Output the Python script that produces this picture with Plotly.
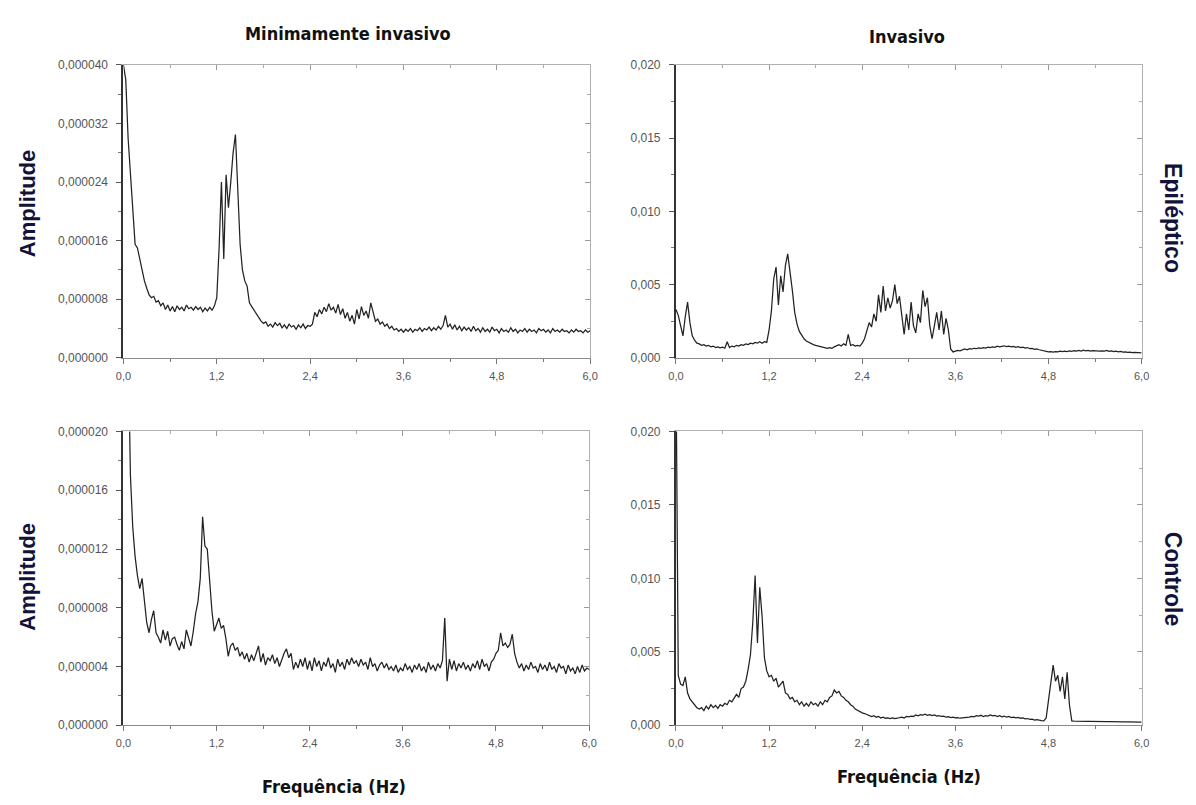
import numpy as np
import plotly.graph_objects as go

# Frequency bins (Hz), 0.03 Hz resolution from 0 to 6 Hz
freq = np.round(np.arange(201) * 0.03, 2)

# Amplitude spectra
# Minimally invasive recordings, in units of 1e-6
mi_epileptico = [
    40, 38, 30, 25, 19, 15.5, 15, 13.5, 12, 10.5,
    9.5, 8.6, 8.2, 8.4, 7.6, 7.8, 7.1, 7.5, 6.6, 7.2,
    6.4, 7.0, 6.3, 7.1, 6.6, 6.9, 6.4, 7.2, 6.7, 6.9,
    6.5, 7.0, 6.6, 6.9, 6.3, 6.8, 6.4, 6.9, 6.5, 7.1,
    8.2, 15, 24, 13.5, 25, 20.5, 24, 28, 30.5, 24,
    15.5, 12, 10.5, 9.8, 7.5, 7.0, 6.5, 6.0, 5.4, 5.0,
    4.7, 4.9, 4.3, 4.6, 4.2, 4.8, 4.4, 4.7, 4.1, 4.5,
    4.0, 4.6, 4.2, 4.4, 3.9, 4.5, 4.1, 4.6, 4.0, 4.4,
    4.3, 4.6, 6.2, 5.6, 6.6, 6.0, 6.9, 6.3, 7.4, 6.5,
    6.9, 6.1, 7.3, 5.9, 6.7, 5.4, 6.2, 5.0, 5.8, 4.6,
    6.6, 5.3, 7.0, 5.8, 6.4, 5.4, 7.5, 6.2, 5.0, 5.3,
    4.6, 4.9, 4.3, 4.6, 4.0, 4.3, 3.8, 4.0, 3.6, 3.9,
    3.5, 3.9, 3.6, 4.0, 3.5, 3.9, 3.7, 4.1, 3.6, 4.0,
    3.8, 4.2, 3.7, 4.1, 3.8, 4.3, 3.9, 4.4, 5.8, 4.2,
    4.6, 3.9, 4.5, 3.8, 4.3, 3.7, 4.2, 3.8, 4.1, 3.6,
    4.3, 3.7, 4.0, 3.5, 4.1, 3.6, 3.9, 3.5, 4.2, 3.7,
    3.9, 3.4, 4.0, 3.6, 3.8, 3.5, 4.1, 3.6, 3.9, 3.4,
    3.8, 3.6, 4.0, 3.5, 3.9, 3.6, 3.8, 3.4, 4.0, 3.7,
    3.9, 3.5, 3.8, 3.4, 4.0, 3.6, 3.8, 3.5, 3.9, 3.6,
    3.7, 3.4, 3.8, 3.5, 3.9, 3.6, 3.7, 3.4, 3.8, 3.5,
    3.7,
]
mi_controle = [
    45, 35, 26, 17, 13.5, 11.5, 10.2, 9.3, 10.0, 8.6,
    7.0, 6.3, 7.2, 7.8, 6.3, 6.0, 5.6, 6.5, 5.8, 6.4,
    5.4, 5.9, 6.0, 5.5, 5.1, 5.7, 5.2, 6.5, 5.9, 5.4,
    6.4, 7.6, 8.4, 10.0, 14.2, 12.2, 12.0, 9.5, 7.8, 6.4,
    6.9, 7.3, 6.6, 6.8, 5.9, 4.7, 5.4, 5.6, 5.1, 5.3,
    4.7, 5.0, 4.5, 4.9, 4.3, 4.8, 4.4, 5.0, 5.4, 4.3,
    4.9, 4.1, 4.6, 4.4, 4.8, 4.2, 4.6, 4.0, 4.5, 4.9,
    5.2, 4.6, 4.9, 3.8, 4.3, 3.9, 4.5, 4.0, 4.6, 3.8,
    4.4, 3.7, 4.6, 4.0, 4.4, 3.7, 4.3, 4.0, 4.6, 3.9,
    4.2, 3.6, 4.5, 4.0, 4.3, 3.8, 4.5, 4.1, 4.6, 4.2,
    4.4, 4.0, 4.5, 4.1, 4.3, 3.8, 4.6, 4.0, 4.2, 3.7,
    4.1, 4.3, 3.9, 4.2, 3.8, 4.0, 3.7, 4.1, 3.6, 3.9,
    3.7, 4.2, 3.8, 4.0, 3.6, 4.1, 3.8, 4.2, 3.7, 4.0,
    3.6, 4.3, 3.8, 4.1, 3.7, 4.2, 3.9, 4.4, 7.3, 3.0,
    4.5, 3.8, 4.4, 3.7, 4.2, 3.9, 4.3, 3.8, 4.1, 3.7,
    4.2, 3.9, 4.4, 3.8, 4.5, 4.0, 4.2, 3.7, 4.3, 4.5,
    4.9, 5.1, 6.3, 5.4, 5.6, 5.3, 5.5, 6.2, 4.9, 4.3,
    3.9, 4.2, 3.7, 4.1, 3.8, 4.3, 3.9, 4.0, 3.6, 4.2,
    3.8, 4.1, 3.7, 4.3, 3.8, 4.0, 3.6, 4.2, 3.9, 4.0,
    3.5, 4.1, 3.7, 3.9, 3.5, 4.0, 3.6, 4.1, 3.7, 3.9,
    3.8,
]

# Invasive recordings, in units of 1e-3
inv_epileptico = [
    3.3, 2.9, 2.2, 1.5, 2.8, 3.8, 2.4, 1.5, 1.2, 1.0,
    0.95, 0.85, 0.9, 0.8, 0.85, 0.75, 0.8, 0.7, 0.75, 0.68,
    0.72, 0.65, 1.1, 0.7, 0.8, 0.75, 0.85, 0.8, 0.9, 0.85,
    0.95, 0.9, 1.0, 0.95, 1.05, 1.0, 1.1, 1.0, 1.1, 1.05,
    1.9, 3.2, 5.4, 6.2, 3.6, 5.6, 4.5, 6.3, 7.1, 5.9,
    4.6, 3.1, 2.3, 1.8, 1.5, 1.3, 1.15, 1.05, 0.95, 0.9,
    0.85, 0.8, 0.75, 0.7, 0.68, 0.65, 0.7, 0.65, 0.75, 0.8,
    0.9, 0.8, 0.95, 0.85, 1.6, 0.85, 0.9, 0.8, 0.85, 0.8,
    1.0, 1.3, 1.8, 2.4, 2.1, 3.0, 2.5, 4.3, 3.1, 4.9,
    3.2, 4.1, 3.4, 3.9, 5.0, 3.7, 4.2, 2.8, 1.6, 3.0,
    1.9, 3.8, 2.2, 1.7, 3.0, 2.4, 4.6, 3.5, 4.1, 2.2,
    1.3, 2.2, 3.1, 1.9, 3.2, 1.6, 2.7, 1.9, 0.6, 0.4,
    0.45, 0.5, 0.48, 0.55, 0.6, 0.55, 0.62, 0.6, 0.65, 0.62,
    0.68, 0.65, 0.7, 0.66, 0.72, 0.7, 0.75, 0.72, 0.8, 0.74,
    0.78, 0.82, 0.76, 0.8, 0.74, 0.78, 0.72, 0.76, 0.7, 0.73,
    0.66, 0.7, 0.62, 0.64, 0.58, 0.6, 0.55, 0.5, 0.45, 0.42,
    0.4, 0.42, 0.38, 0.42, 0.4, 0.45, 0.42, 0.46, 0.43, 0.47,
    0.44, 0.48, 0.45, 0.5, 0.46, 0.52, 0.48, 0.5, 0.46, 0.49,
    0.47, 0.5, 0.45, 0.48, 0.46, 0.5, 0.44, 0.47, 0.42, 0.45,
    0.4, 0.43, 0.39, 0.41, 0.37, 0.39, 0.35, 0.37, 0.34, 0.35,
    0.33,
]
inv_controle = [
    25, 3.4, 2.8, 2.7, 3.3, 2.2, 1.8, 1.6, 1.35, 1.2,
    1.1, 1.2, 1.0, 1.3, 1.1, 1.4, 1.2, 1.35, 1.15, 1.4,
    1.3, 1.5, 1.4, 1.7, 1.6, 1.9, 2.1, 1.9, 2.5, 2.6,
    3.0, 3.8, 4.8, 7.0, 10.2, 5.6, 9.4, 7.4, 4.6, 3.7,
    3.3, 3.4, 3.0, 3.2, 2.6, 2.8, 3.0, 2.2, 2.1, 1.8,
    1.9, 1.6, 1.7, 1.4, 1.6, 1.3, 1.5, 1.3, 1.6, 1.4,
    1.5, 1.3, 1.6, 1.4, 1.7, 1.6, 1.9, 2.0, 2.4, 2.2,
    2.3, 2.0, 1.9, 1.7, 1.6, 1.4, 1.3, 1.1, 1.0, 0.9,
    0.85, 0.8, 0.75, 0.7, 0.6, 0.65, 0.55, 0.6, 0.5, 0.55,
    0.48, 0.5, 0.45, 0.5, 0.45, 0.48, 0.5, 0.55, 0.5, 0.6,
    0.58, 0.62, 0.6, 0.7, 0.65, 0.72, 0.7, 0.75, 0.68, 0.72,
    0.66, 0.7, 0.62, 0.66, 0.6, 0.62, 0.55, 0.58, 0.52, 0.55,
    0.5, 0.52, 0.48, 0.5, 0.47, 0.52, 0.55, 0.6, 0.58, 0.65,
    0.62, 0.68, 0.6, 0.65, 0.62, 0.7, 0.64, 0.68, 0.6, 0.65,
    0.58, 0.62, 0.55, 0.6, 0.52, 0.56, 0.5, 0.54, 0.48, 0.5,
    0.44, 0.46, 0.4, 0.42, 0.36, 0.38, 0.33, 0.32, 0.3, 0.5,
    1.7, 2.8, 4.1, 3.0, 3.4, 2.3, 3.3, 1.8, 3.6, 1.4,
    0.3, 0.28, 0.27, 0.28, 0.27, 0.26, 0.27, 0.26, 0.27, 0.26,
    0.26, 0.25, 0.26, 0.25, 0.26, 0.25, 0.25, 0.24, 0.25, 0.24,
    0.25, 0.24, 0.24, 0.23, 0.24, 0.23, 0.24, 0.23, 0.23, 0.22,
    0.22,
]

W, H = 1196, 805
LINE = "#222222"
YTICKFONT = dict(family="Liberation Sans, Arial, sans-serif", size=12, color="#555555")
XTICKFONT = dict(family="Liberation Sans, Arial, sans-serif", size=11, color="#555555")
LABEL_COLOR = "#12123a"


def px_x(a, b):
    return [a / W, b / W]


def px_y(top, bottom):
    return [1 - bottom / H, 1 - top / H]


panels = [
    # (suffix, frame-axis suffix, x domain, y domain, values, scale, y max, y step, y format)
    ("", "5", px_x(117, 590), px_y(59, 357), mi_epileptico, 1e-6, 40e-6, 8e-6, ".6f"),
    ("2", "6", px_x(677, 1149), px_y(59, 357), inv_epileptico, 1e-3, 0.020, 0.005, ".3f"),
    ("3", "7", px_x(117, 589), px_y(432, 731), mi_controle, 1e-6, 20e-6, 4e-6, ".6f"),
    ("4", "8", px_x(677, 1149), px_y(432, 731), inv_controle, 1e-3, 0.020, 0.005, ".3f"),
]

fig = go.Figure()
layout = {}

for sfx, osfx, xdom, ydom, vals, scale, ymax, ystep, yfmt in panels:
    xa, ya = "x" + sfx, "y" + sfx
    xo, yo = "x" + osfx, "y" + osfx
    fig.add_trace(go.Scatter(
        x=freq, y=np.array(vals) * scale, mode="lines",
        line=dict(color=LINE, width=1.25),
        xaxis=xa, yaxis=ya, showlegend=False, hoverinfo="skip",
    ))
    # empty trace so the top/right frame axes are drawn
    fig.add_trace(go.Scatter(
        x=[None], y=[None], xaxis=xo, yaxis=yo,
        showlegend=False, hoverinfo="skip",
    ))
    common_x = dict(range=[0, 6], tick0=0, dtick=1.2, showgrid=False, zeroline=False)
    common_y = dict(range=[0, ymax], tick0=0, dtick=ystep, showgrid=False, zeroline=False)
    layout["xaxis" + sfx] = dict(
        domain=xdom, anchor=ya, ticks="outside", ticklen=5, tickwidth=1,
        tickcolor="#777777", showline=True, linecolor="#8a8a8a", linewidth=1,
        tickformat=".1f", tickfont=XTICKFONT, ticklabelstandoff=3,
        minor=dict(dtick=0.6, ticks="outside", ticklen=3, tickcolor="#777777"),
        **common_x,
    )
    layout["yaxis" + sfx] = dict(
        domain=ydom, anchor=xa, ticks="outside", ticklen=5, tickwidth=1,
        tickcolor="#555555", showline=True, linecolor="#333333", linewidth=2,
        tickformat=yfmt, tickfont=YTICKFONT, ticklabelstandoff=6,
        minor=dict(dtick=ystep / 2, ticks="outside", ticklen=3, tickcolor="#777777"),
        **common_y,
    )
    layout["xaxis" + osfx] = dict(
        overlaying=xa, anchor=ya, side="top", ticks="inside", ticklen=5,
        tickcolor="#999999", showline=True, linecolor="#b0b0b0", linewidth=1,
        showticklabels=False,
        minor=dict(dtick=0.6, ticks="inside", ticklen=3, tickcolor="#aaaaaa"),
        **common_x,
    )
    layout["yaxis" + osfx] = dict(
        overlaying=ya, anchor=xa, side="right", ticks="inside", ticklen=5,
        tickcolor="#999999", showline=True, linecolor="#b0b0b0", linewidth=1,
        showticklabels=False,
        minor=dict(dtick=ystep / 2, ticks="inside", ticklen=3, tickcolor="#aaaaaa"),
        **common_y,
    )

NARROW = "Liberation Sans Narrow, Arial Narrow, DejaVu Sans Condensed, sans-serif"
BOLD = "Liberation Sans, Arial, sans-serif"

annotations = [
    dict(text="<b>Minimamente invasivo</b>", x=345 / W, y=1 - 27 / H,
         font=dict(family=NARROW, size=18, color="#111111")),
    dict(text="<b>Invasivo</b>", x=911 / W, y=1 - 30 / H,
         font=dict(family=NARROW, size=18, color="#111111")),
    dict(text="<b>Frequência (Hz)</b>", x=330 / W, y=1 - 793 / H,
         font=dict(family=NARROW, size=18, color="#111111")),
    dict(text="<b>Frequência (Hz)</b>", x=913 / W, y=1 - 783 / H,
         font=dict(family=NARROW, size=18, color="#111111")),
    dict(text="<b>Amplitude</b>", x=20 / W, y=1 - 200 / H, textangle=-90,
         font=dict(family=BOLD, size=22, color=LABEL_COLOR)),
    dict(text="<b>Amplitude</b>", x=20 / W, y=1 - 580 / H, textangle=-90,
         font=dict(family=BOLD, size=22, color=LABEL_COLOR)),
    dict(text="<b>Epiléptico</b>", x=1181 / W, y=1 - 215 / H, textangle=90,
         font=dict(family=BOLD, size=23, color=LABEL_COLOR)),
    dict(text="<b>Controle</b>", x=1181 / W, y=1 - 582 / H, textangle=90,
         font=dict(family=BOLD, size=23, color=LABEL_COLOR)),
]
for a in annotations:
    a.update(xref="paper", yref="paper", showarrow=False, xanchor="center", yanchor="middle")

fig.update_layout(
    width=W, height=H, margin=dict(l=0, r=0, t=0, b=0),
    paper_bgcolor="white", plot_bgcolor="white",
    separators=",.", showlegend=False,
    annotations=annotations,
    **layout,
)

fig.write_html("out.html")
